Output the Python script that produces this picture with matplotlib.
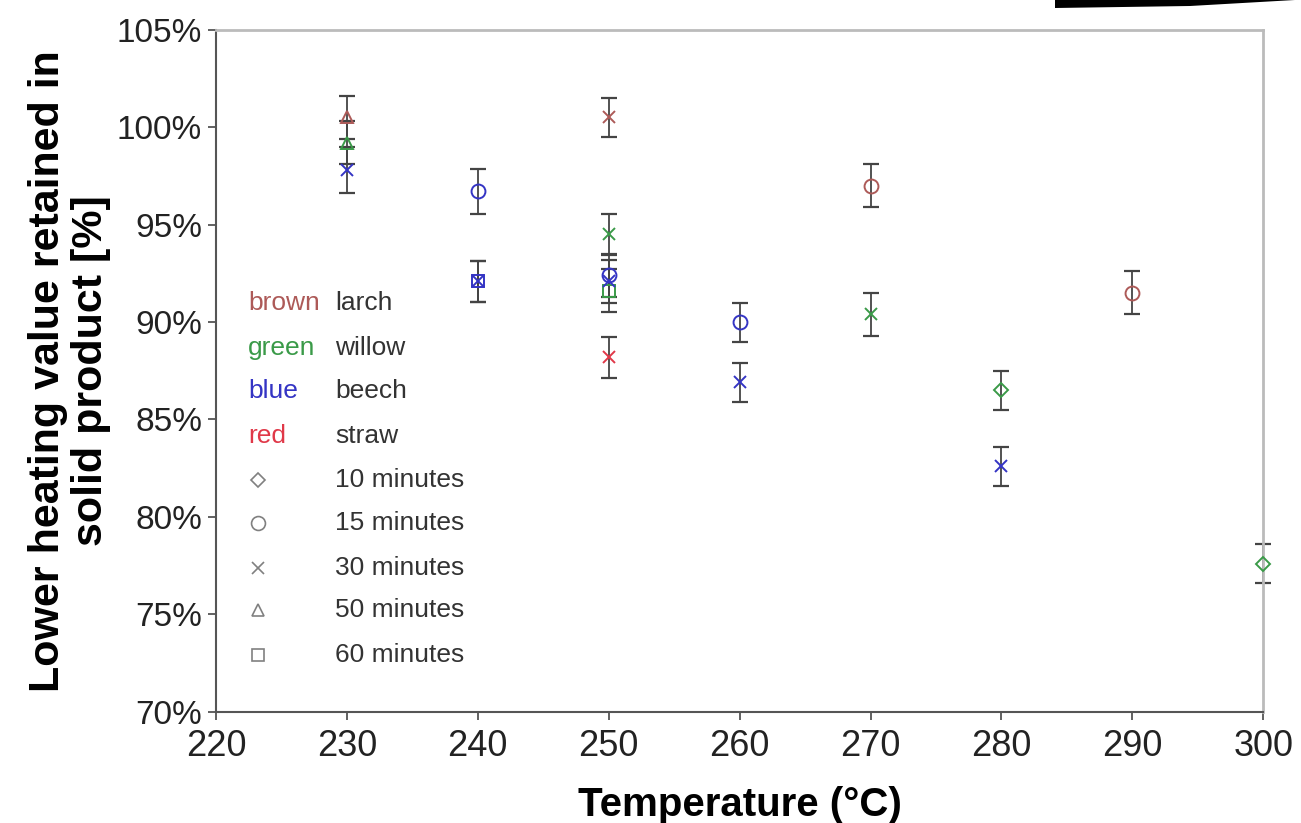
import matplotlib
matplotlib.use('Agg')
import matplotlib.pyplot as plt
from matplotlib.patches import Polygon
from matplotlib.ticker import FuncFormatter

plt.rcParams['font.family'] = ['Liberation Sans', 'DejaVu Sans']

# Measured points: temperature, retained LHV (%), error, species, residence time
temps = [230, 250, 270, 290,
         230, 250, 250, 270, 280, 300,
         230, 240, 240, 240, 250, 250, 260, 260, 280,
         250]
values = [100.5, 100.5, 97.0, 91.5,
          99.2, 94.5, 91.6, 90.4, 86.5, 77.6,
          97.8, 96.7, 92.1, 92.1, 92.4, 92.1, 90.0, 86.9, 82.6,
          88.2]
errors = [1.1, 1.0, 1.1, 1.1,
          1.1, 1.05, 1.1, 1.1, 1.0, 1.0,
          1.2, 1.15, 1.05, 1.05, 1.1, 1.1, 1.0, 1.0, 1.0,
          1.05]
species = ['larch'] * 4 + ['willow'] * 6 + ['beech'] * 9 + ['straw']
minutes = [50, 30, 15, 15,
           50, 30, 60, 30, 10, 10,
           30, 15, 60, 30, 15, 30, 15, 30, 30,
           30]

species_names = ['larch', 'willow', 'beech', 'straw']
colour_names = ['brown', 'green', 'blue', 'red']
colours = {'larch': '#ad5a58', 'willow': '#3a9a48', 'beech': '#3434c4', 'straw': '#e03848'}
time_list = [10, 15, 30, 50, 60]
markers = {10: 'D', 15: 'o', 30: 'x', 50: '^', 60: 's'}
marker_size = {10: 7, 15: 10, 30: 9, 50: 9, 60: 9}

fig = plt.figure(figsize=(13.01, 8.23), dpi=100)
ax = fig.add_axes([0.166, 0.135, 0.805, 0.829])

for t, v, e, s, m in zip(temps, values, errors, species, minutes):
    ax.errorbar(t, v, yerr=e, fmt='none', ecolor='#444444', elinewidth=1.3,
                capsize=5.5, capthick=1.6, zorder=2, clip_on=False)
    ax.plot(t, v, marker=markers[m], ms=marker_size[m], mfc='none',
            mec=colours[s], mew=1.4, linestyle='none', zorder=3, clip_on=False)

ax.set_xlim(220, 300)
ax.set_ylim(70, 105)
ax.set_xticks(range(220, 301, 10))
ax.set_yticks(range(70, 106, 5))
ax.yaxis.set_major_formatter(FuncFormatter(lambda v, p: f'{v:.0f}%'))
ax.tick_params(axis='x', labelsize=26, colors='#555555', labelcolor='#222222',
               length=6, width=1.3, pad=6)
ax.tick_params(axis='y', labelsize=24, colors='#555555', labelcolor='#222222',
               length=6, width=1.3, pad=4)

for side in ['left', 'bottom']:
    ax.spines[side].set_color('#555555')
    ax.spines[side].set_linewidth(1.5)
for side in ['top', 'right']:
    ax.spines[side].set_color('#bbbbbb')
    ax.spines[side].set_linewidth(2)

ax.set_xlabel('Temperature (°C)', fontsize=29, fontweight='bold', labelpad=16)
ax.set_ylabel('Lower heating value retained in\nsolid product [%]', fontsize=31,
              fontweight='bold', labelpad=4, linespacing=1.1)

# key drawn inside the plot
rows_y = [0.600, 0.533, 0.470, 0.404, 0.340, 0.277, 0.211, 0.149, 0.0835]
for i, (cname, sp) in enumerate(zip(colour_names, species_names)):
    ax.text(0.0306, rows_y[i], cname, color=colours[sp], fontsize=19,
            va='center', ha='left', transform=ax.transAxes)
    ax.text(0.1137, rows_y[i], sp, color='#333333', fontsize=19,
            va='center', ha='left', transform=ax.transAxes)
for j, t in enumerate(time_list):
    y = rows_y[4 + j]
    ax.plot(0.040, y, marker=markers[t], ms=marker_size[t], mfc='none',
            mec='#808080', mew=1.2, linestyle='none', transform=ax.transAxes,
            clip_on=False)
    ax.text(0.1137, y, f'{t} minutes', color='#333333', fontsize=19,
            va='center', ha='left', transform=ax.transAxes)

# black scrap at the top right corner of the scan
W, H = 1301, 823
pts = [(1055, 0), (1055, 8), (1190, 6), (1295, 0)]
fig.add_artist(Polygon([(x / W, 1 - y / H) for x, y in pts], closed=True,
                       facecolor='black', edgecolor='none', transform=fig.transFigure))

fig.savefig('out.png', dpi=100)
